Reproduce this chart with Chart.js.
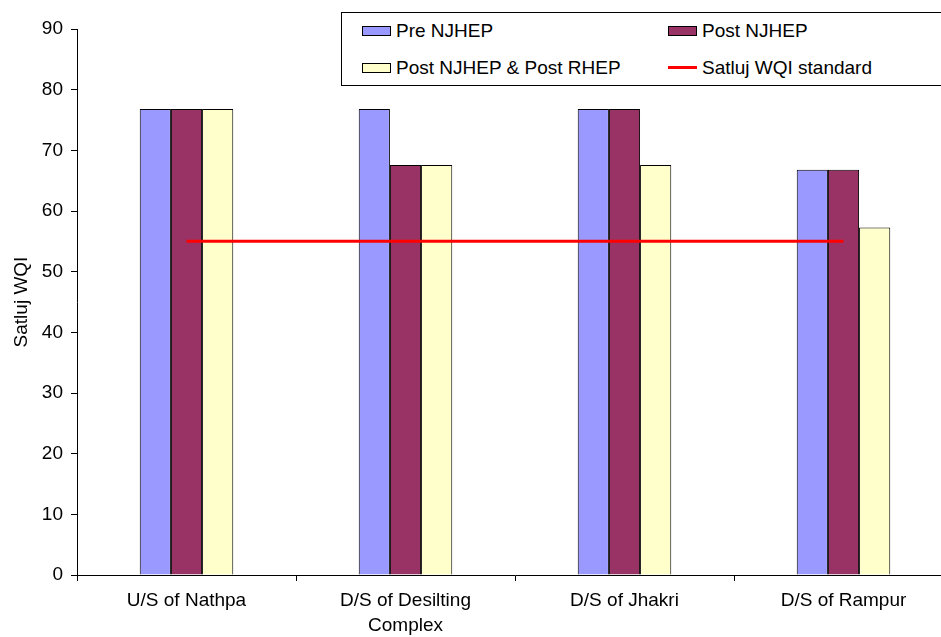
<!DOCTYPE html>
<html>
<head>
<meta charset="utf-8">
<script src="https://cdn.jsdelivr.net/npm/chart.js@4.4.1/dist/chart.umd.min.js"></script>
<style>
  html, body { margin: 0; padding: 0; background: #fff; overflow: hidden; }
  #wrap { position: relative; width: 960px; height: 637px; }
  #legend {
    position: absolute; left: 341px; top: 12px; width: 620px; height: 72px;
    border: 1px solid #000; background: #fff;
    font-family: "Liberation Sans", Arial, sans-serif; font-size: 19px; color: #000;
  }
  .item { position: absolute; height: 22px; line-height: 22px; white-space: nowrap; }
  .sw { position: absolute; top: 6px; left: 0; width: 27px; height: 8px; border: 1px solid #000; }
  .ln { position: absolute; top: 9px; left: 0; width: 29px; height: 3px; background: #ff0000; }
  .item span { position: absolute; left: 34px; }
</style>
</head>
<body>
<div id="wrap">
  <canvas id="chart"></canvas>
  <div id="legend"></div>
</div>
<script>
/* Data */
const categories = [
  "U/S of Nathpa",
  ["D/S of Desilting", "Complex"],
  "D/S of Jhakri",
  "D/S of Rampur"
];
const preNJHEP = [76.8, 76.8, 76.8, 66.8];
const postNJHEP = [76.8, 67.6, 76.8, 66.8];
const postRHEP = [76.8, 67.6, 67.6, 57.3];
const wqiStandard = [55, 55, 55, 55];
const yTicks = [0, 10, 20, 30, 40, 50, 60, 70, 80, 90];

/* Legend (HTML) */
const legendItems = [
  { label: "Pre NJHEP", color: "#9999ff", x: 20, y: 7 },
  { label: "Post NJHEP", color: "#993366", x: 326, y: 7 },
  { label: "Post NJHEP & Post RHEP", color: "#ffffcc", x: 20, y: 44 },
  { label: "Satluj WQI standard", line: true, x: 326, y: 44 }
];
const legend = document.getElementById("legend");
legendItems.forEach((it) => {
  const d = document.createElement("div");
  d.className = "item";
  d.style.left = it.x + "px";
  d.style.top = it.y + "px";
  const mark = it.line
    ? '<div class="ln"></div>'
    : '<div class="sw" style="background:' + it.color + '"></div>';
  d.innerHTML = mark + "<span>" + it.label + "</span>";
  legend.appendChild(d);
});

/* Chart */
const font = { family: "'Liberation Sans', Arial, sans-serif", size: 19 };

const bar = (label, data, color) => ({
  type: "bar",
  label: label,
  data: data,
  backgroundColor: color,
  borderColor: "#000",
  borderWidth: 1,
  barPercentage: 1,
  categoryPercentage: 0.427,
  order: 2
});

new Chart(document.getElementById("chart"), {
  data: {
    labels: categories,
    datasets: [
      bar("Pre NJHEP", preNJHEP, "#9999ff"),
      bar("Post NJHEP", postNJHEP, "#993366"),
      bar("Post NJHEP & Post RHEP", postRHEP, "#ffffcc"),
      {
        type: "line",
        label: "Satluj WQI standard",
        data: wqiStandard,
        borderColor: "#ff0000",
        borderWidth: 3,
        pointRadius: 0,
        fill: false,
        order: 1
      }
    ]
  },
  options: {
    responsive: true,
    maintainAspectRatio: false,
    animation: false,
    layout: { padding: { top: 29, right: 7, left: 0, bottom: 0 } },
    plugins: {
      legend: { display: false },
      tooltip: { enabled: false }
    },
    scales: {
      x: {
        grid: {
          offset: true,
          drawOnChartArea: false,
          drawTicks: true,
          tickLength: 6,
          color: "#000"
        },
        border: { color: "#000", width: 1 },
        ticks: {
          color: "#000",
          font: { family: font.family, size: 19, lineHeight: 1.32 },
          padding: 7,
          maxRotation: 0,
          autoSkip: false
        },
        afterFit: (s) => { s.height = 62; }
      },
      y: {
        min: 0,
        max: 90,
        afterBuildTicks: (s) => { s.ticks = yTicks.map((v) => ({ value: v })); },
        grid: {
          drawOnChartArea: false,
          drawTicks: true,
          tickLength: 6,
          color: "#000"
        },
        border: { color: "#000", width: 1 },
        ticks: { color: "#000", font: font, padding: 8 },
        title: {
          display: true,
          text: "Satluj WQI",
          color: "#000",
          font: font,
          padding: { top: 10, bottom: 0 }
        },
        afterFit: (s) => { s.width = 77; }
      }
    }
  }
});
</script>
</body>
</html>
